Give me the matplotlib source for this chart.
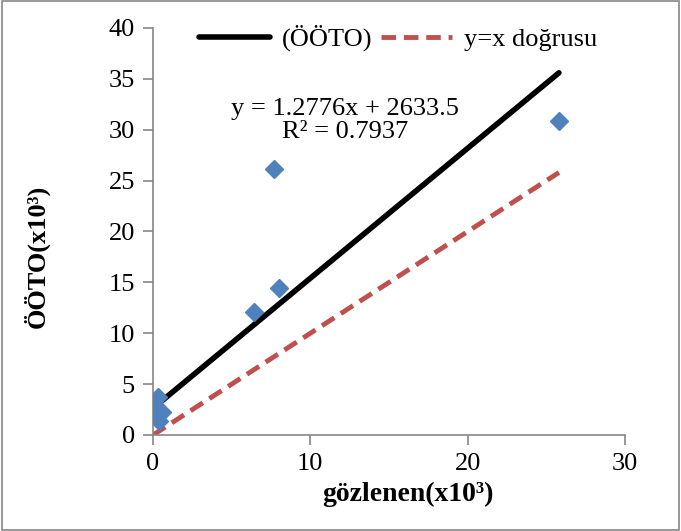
import numpy as np
import matplotlib.pyplot as plt

plt.rcParams['font.family'] = ['Liberation Serif', 'DejaVu Serif']

# gözlenen (x10^3) vs ÖÖTO (x10^3)
gozlenen = [0.15, 0.3, 0.6, 0.35, 0.2, 6.4, 7.7, 8.0, 25.8]
ooto = [2.0, 3.7, 2.3, 1.4, 2.6, 12.1, 26.1, 14.4, 30.9]
slope = 1.2776
intercept = 2.6335  # 2633.5 / 1000
r2 = 0.7937

fig = plt.figure(figsize=(6.81, 5.31), dpi=100)
ax = fig.add_axes([0.2247, 0.1808, 0.6931, 0.7665])

xs = np.array([0.0, max(gozlenen)])
ax.plot(xs, xs, color='#C0504D', linewidth=3.5, linestyle=(0, (3.0, 1.6)),
        label='y=x doğrusu', zorder=2)
xl = np.array([min(gozlenen), max(gozlenen)])
ax.plot(xl, slope * xl + intercept, color='black', linewidth=4,
        label='(ÖÖTO)', solid_capstyle='round', zorder=3)
ax.plot(gozlenen, ooto, linestyle='none', marker='D', markersize=9,
        color='#4F81BD', zorder=4)

ax.set_xlim(0, 30)
ax.set_ylim(0, 40)
ax.set_xticks([0, 10, 20, 30])
ax.set_yticks(range(0, 41, 5))
for s in ['top', 'right']:
    ax.spines[s].set_visible(False)
for s in ['left', 'bottom']:
    ax.spines[s].set_color('#868686')
    ax.spines[s].set_linewidth(1.2)
ax.tick_params(colors='#868686', labelcolor='black', labelsize=19,
               length=7, width=1.2, direction='out', pad=6)

ax.set_xlabel('gözlenen(x10³)', fontsize=20, fontweight='bold')
ax.set_ylabel('ÖÖTO(x10³)', fontsize=19, fontweight='bold')
ax.xaxis.set_label_coords(0.54, -0.115)
ax.yaxis.set_label_coords(-0.218, 0.44)

ax.text(12.2, 30.9, f'y = {slope}x + {intercept * 1000:.1f}\nR² = {r2}',
        fontsize=19, ha='center', va='center', linespacing=1.1)

handles, labels = ax.get_legend_handles_labels()
ax.legend(handles[::-1], labels[::-1], loc='center', ncol=2, frameon=False,
          fontsize=19, handlelength=2.7, handletextpad=0.45, columnspacing=0.3,
          bbox_to_anchor=(0.519, 0.975))

fig.patches.append(plt.Rectangle((0.003, 0.002), 0.994, 0.996, transform=fig.transFigure,
                                 fill=False, edgecolor='#868686', linewidth=1.2))

fig.savefig('out.png', dpi=100)
